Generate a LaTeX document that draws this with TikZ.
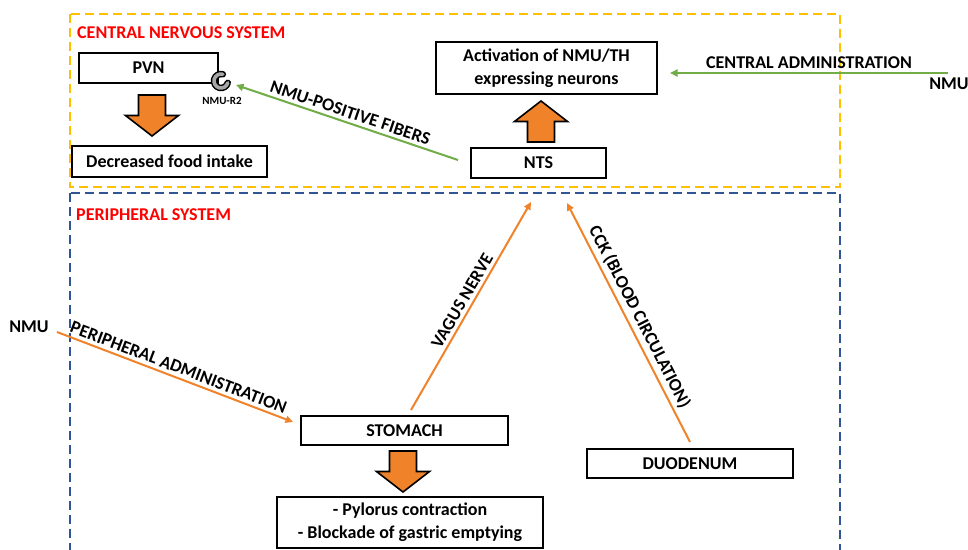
\documentclass[tikz,border=0pt]{standalone}
\usepackage{fontspec}
\setmainfont{Carlito}
\usetikzlibrary{arrows.meta}
\definecolor{nmuorange}{HTML}{F0822A}
\definecolor{nmugreen}{HTML}{70AD47}
\definecolor{nmublue}{HTML}{2F5597}
\definecolor{nmuyellow}{HTML}{FFC000}
\begin{document}
\begin{tikzpicture}[x=1pt, y=-1pt, >={Triangle[length=7.5pt, width=7pt]},
    font=\fontsize{18}{23}\selectfont\bfseries,
    box/.style={draw, line width=1.7pt, fill=white, inner sep=0pt, align=center},
    region/.style={line width=2.8pt, dash pattern=on 9pt off 5pt},
    oline/.style={->, nmuorange, line width=2pt},
    gline/.style={->, nmugreen, line width=2pt},
    lab/.style={sloped, above=0pt, text=black},
    title/.style={anchor=west, inner sep=0pt, text=red},
    blk/.style={draw, line width=1.6pt, fill=nmuorange, line join=miter}]
  \useasboundingbox (0,0) rectangle (968,549);
  \clip (0,0) rectangle (968,549);
  % ---------------- the two systems ----------------
  \draw[region, nmuyellow] (70,14) rectangle (840,187);
  \draw[region, nmublue] (70,193) rectangle (840,590);
  \node[title] (cns) at (77,32.5) {CENTRAL NERVOUS SYSTEM};
  \node[title] (pns) at (76,215) {PERIPHERAL SYSTEM};
  % ---------------- boxes ----------------
  \node[box, minimum width=139pt, minimum height=30pt] (pvn) at (148.5,68) {PVN};
  \node[box, minimum width=195pt, minimum height=31pt] (food) at (169.5,161.5) {Decreased food intake};
  \node[box, minimum width=221pt, minimum height=52pt] (act) at (546.5,68) {Activation of NMU/TH\\expressing neurons};
  \node[box, minimum width=135pt, minimum height=30pt] (nts) at (538.5,163) {NTS};
  \node[box, minimum width=207pt, minimum height=29pt] (stomach) at (404.5,430.5) {STOMACH};
  \node[box, minimum width=266pt, minimum height=51pt] (effect) at (410,522.5) {- Pylorus contraction\\- Blockade of gastric emptying};
  \node[box, minimum width=206pt, minimum height=29pt] (duod) at (690,463.5) {DUODENUM};
  \node (nmuL) at (29,327) {NMU};
  \node (nmuR) at (949,84) {NMU};
  % big block arrows (down, down, up)
  \foreach \cx/\cy/\d in {152/95/1, 403/451/1, 541/142/-1}
    \draw[blk, shift={(\cx,\cy)}, yscale=\d] (-13.5,0) -- (13.5,0) -- (13.5,20.5) -- (26.5,20.5)
      -- (0,41) -- (-26.5,20.5) -- (-13.5,20.5) -- cycle;
  % NMU-R2 receptor on the PVN
  \coordinate (r2) at (221,81);
  \draw[black, line width=6.5pt, line cap=round] (r2) ++(-75:7) arc[start angle=-75, end angle=-345, radius=7];
  \draw[gray!70, line width=3.6pt, line cap=round] (r2) ++(-75:7) arc[start angle=-75, end angle=-345, radius=7];
  \node[font=\fontsize{11}{13}\selectfont\bfseries] (r2lab) at (222,101) {NMU-R2};
  % ---------------- connectors ----------------
  \coordinate (ca-out) at (948,73);
  \coordinate (ca-in) at (670,73);
  \coordinate (fib-out) at (458,160);
  \coordinate (r2-in) at (236,85);
  \coordinate (per-out) at (57,332);
  \coordinate (per-in) at (293,422);
  \coordinate (vag-out) at (411,410);
  \coordinate (vag-in) at (531,202);
  \coordinate (cck-out) at (690,442);
  \coordinate (cck-in) at (567,203);
  \draw[gline] (ca-out) -- node[above=0pt, text=black] {CENTRAL ADMINISTRATION} (ca-in);
  \draw[gline] (fib-out) -- node[lab] {NMU-POSITIVE FIBERS} (r2-in);
  \draw[oline] (per-out) -- node[lab] {PERIPHERAL ADMINISTRATION} (per-in);
  \draw[oline] (vag-out) -- node[lab] {VAGUS NERVE} (vag-in);
  \draw[oline] (cck-out) -- node[lab] {CCK (BLOOD CIRCULATION)} (cck-in);
\end{tikzpicture}
\end{document}
